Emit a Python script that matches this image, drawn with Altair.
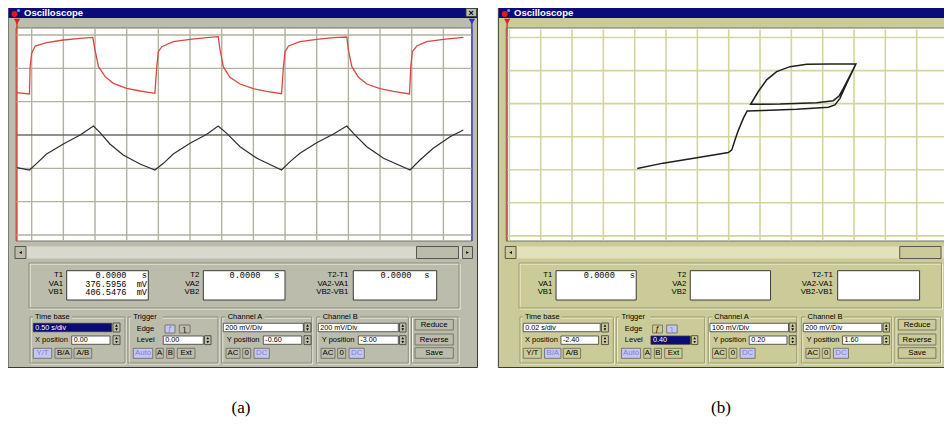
import altair as alt
import pandas as pd

# ---------------- trace values read from the two screens (screen divisions) ----------------
A_RED_X = [-6.49, -6.07, -6.05, -6.00, -5.89, -5.53, -5.00, -4.47, -4.07, -4.00, -3.89, -3.68, -3.42, -3.00, -2.58, -2.11,
           -2.05, -2.00, -1.89, -1.53, -1.00, -0.47, -0.11, -0.05, 0.05, 0.26, 0.58, 1.00, 1.42, 1.89,
           1.95, 2.00, 2.11, 2.47, 3.00, 3.53, 3.95, 4.00, 4.11, 4.32, 4.58, 5.00, 5.42, 5.93,
           5.97, 6.02, 6.16, 6.47, 7.00, 7.63]
A_RED_Y = [1.27, 1.23, 2.05, 2.45, 2.67, 2.77, 2.85, 2.90, 2.93, 2.55, 2.05, 1.75, 1.55, 1.40, 1.32, 1.25,
           2.05, 2.50, 2.65, 2.80, 2.87, 2.92, 2.95, 2.55, 2.05, 1.73, 1.53, 1.39, 1.31, 1.24,
           2.05, 2.50, 2.67, 2.80, 2.87, 2.92, 2.94, 2.55, 2.05, 1.73, 1.53, 1.39, 1.31, 1.23,
           2.05, 2.50, 2.67, 2.80, 2.87, 2.93]
A_BLK_X = [-6.47, -6.07, -5.84, -5.53, -5.00, -4.47, -4.05, -3.84, -3.53, -3.11, -2.58, -2.11, -1.84, -1.53, -1.00,
           -0.47, -0.11, 0.16, 0.58, 1.11, 1.89, 2.16, 2.47, 3.00, 3.53, 3.95, 4.16, 4.58, 5.11, 5.95, 6.26, 6.68,
           7.21, 7.63]
A_BLK_Y = [-0.98, -1.05, -0.85, -0.57, -0.27, 0.00, 0.27, 0.07, -0.27, -0.60, -0.87, -1.05, -0.85, -0.57, -0.25,
           0.02, 0.27, 0.05, -0.35, -0.70, -1.05, -0.80, -0.55, -0.23, 0.03, 0.27, 0.05, -0.35, -0.70, -1.05, -0.75,
           -0.40, -0.05, 0.15]
B_X = [-2.92, -2.09, -1.02, -0.01, 0.10, 0.20, 0.31, 0.47, 0.59, 1.10, 2.17, 3.18, 3.39, 3.55, 3.77, 4.06,
       3.23, 2.49, 1.96, 1.53, 1.21, 0.94, 0.70, 1.64, 2.81, 3.34, 3.53, 3.66, 4.06]
B_Y = [-0.96, -0.80, -0.64, -0.48, -0.40, -0.10, 0.20, 0.56, 0.78, 0.79, 0.83, 0.89, 0.96, 1.16, 1.62, 2.20,
       2.20, 2.19, 2.12, 1.97, 1.72, 1.36, 0.98, 0.99, 1.03, 1.09, 1.24, 1.46, 2.20]
A_GRID_X = [-6, -5, -4, -3, -2, -1, 0, 1, 2, 3, 4, 5, 6, 7]
A_GRID_Y = [-3, -2, -1, 0, 1, 2, 3]
B_GRID_X = [-7, -6, -5, -4, -3, -2, -1, 0, 1, 2, 3, 4, 5, 6, 7]
B_GRID_Y = [-3, -2, -1, 0, 1, 2, 3]

# ---------------- texts ----------------
TITLE = "Oscilloscope"
READ_LABELS = [["T1", "VA1", "VB1"], ["T2", "VA2", "VB2"], ["T2-T1", "VA2-VA1", "VB2-VB1"]]
GROUP_LABELS = ["Time base", "Trigger", "Channel A", "Channel B"]
ROW_LABELS = ["X position", "Edge", "Level", "Y position", "Y position"]
A_READ = [[("0.0000", "s"), ("376.5956", "mV"), ("406.5476", "mV")], [("0.0000", "s")], [("0.0000", "s")]]
B_READ = [[("0.0000", "s")], [], []]
A_INPUTS = {"tb": "0.50 s/div", "xpos": "0.00", "level": "0.00", "chA": "200 mV/Div", "yA": "-0.60",
            "chB": "200 mV/Div", "yB": "-3.00"}
B_INPUTS = {"tb": "0.02 s/div", "xpos": "-2.40", "level": "0.40", "chA": "100 mV/Div", "yA": "0.20",
            "chB": "200 mV/Div", "yB": "1.60"}
BUTTON_TEXT = {"yt": "Y/T", "ba": "B/A", "ab": "A/B", "edge_r": "ƒ", "edge_f": "ʅ", "auto": "Auto", "tA": "A",
               "tB": "B", "ext": "Ext", "acA": "AC", "zA": "0", "dcA": "DC", "acB": "AC", "zB": "0", "dcB": "DC",
               "reduce": "Reduce", "reverse": "Reverse", "save": "Save"}
CAPTIONS = ["(a)", "(b)"]

# ---------------- styles / layout ----------------
UI, MONO, SERIF = "Liberation Sans", "Liberation Mono", "Liberation Serif"
NAVY, DARK = "#0a0a78", "#3a3a3a"
LAV_FILL, LAV_TEXT = "#c6c6f2", "#8080d4"

W, H = 936, 412
PX0, PX1, PY0, PY1 = 8, 8 + W, 8, 8 + H

SCREEN_A = dict(x0=221.7, dx=31.67, y0=135.0, dy=33.33, box=(16.5, 471.5, 28.5, 240.5))
SCREEN_B = dict(x0=728.7, dx=31.33, y0=136.7, dy=33.05, box=(507.5, 952.0, 29.5, 240.5))

WA = dict(ox=0.0, sx=1.0, bg="#bcbcac", track="#d8d8ce", edark="#8c8c7c", elight="#f2f2ea", close=True,
          read=A_READ, inputs=A_INPUTS, selected="tb", lit={"yt", "edge_r", "auto", "dcA", "dcB"})
WB = dict(ox=490.5, sx=0.9826, bg="#cbcb99", track="#e2e2ba", edark="#9a9a6a", elight="#f4f4dc", close=False,
          read=B_READ, inputs=B_INPUTS, selected="level", lit={"ba", "edge_f", "auto", "dcA", "dcB"})

READ_BOXES = [(66.7, 148.3), (203.3, 285.0), (353.3, 436.7)]
READ_ROWS = [275.3, 283.5, 291.7]
READ_LABEL_X = [63.0, 199.3, 348.3]
VALUE_RIGHT = [126.5, 260.5, 411.5]
UNIT_RIGHT = [147.0, 279.5, 429.5]
GROUPS = [(30, 125), (128, 218), (221.7, 311.7), (316.7, 408.3), (411.5, 458)]
GROUP_LABEL_X = [35, 133.3, 227.7, 322.7]
ROW_POS = [(35, 340), (136.7, 329), (136.7, 340), (226.7, 340), (321.7, 340)]
INPUTS = [("tb", 33.3, 111.7, 323.3, 331.7, 113.0, 120.0), ("xpos", 71.7, 110.0, 336.0, 344.3, 113.0, 120.0),
          ("level", 163.3, 203.3, 336.0, 344.3, 204.5, 211.0), ("chA", 223.3, 303.3, 323.3, 331.7, 304.0, 311.0),
          ("yA", 263.3, 301.7, 336.0, 344.3, 304.0, 311.0), ("chB", 318.3, 398.3, 323.3, 331.7, 399.5, 406.0),
          ("yB", 358.3, 398.3, 336.0, 344.3, 399.5, 406.0)]
BTN_ROW = (348.3, 358.3)
BUTTONS = [("yt", 33.3, 51.7) + BTN_ROW, ("ba", 55.0, 71.7) + BTN_ROW, ("ab", 74.0, 91.7) + BTN_ROW,
           ("edge_r", 165.0, 175.0, 325.0, 333.0), ("edge_f", 179.3, 190.0, 325.0, 333.0),
           ("auto", 133.3, 152.7) + BTN_ROW, ("tA", 156.0, 163.3) + BTN_ROW, ("tB", 166.7, 174.0) + BTN_ROW,
           ("ext", 177.3, 195.0) + BTN_ROW, ("acA", 226.0, 240.0) + BTN_ROW, ("zA", 242.7, 250.7) + BTN_ROW,
           ("dcA", 254.0, 269.3) + BTN_ROW, ("acB", 321.0, 335.0) + BTN_ROW, ("zB", 337.7, 345.7) + BTN_ROW,
           ("dcB", 349.0, 364.3) + BTN_ROW, ("reduce", 415.0, 453.3, 319.3, 330.0),
           ("reverse", 415.0, 453.3, 334.0, 345.0), ("save", 415.0, 453.3, 347.7, 358.3)]

rects, texts, pts = [], [], []


def R(w, x1, x2, y1, y2, fill, stroke="transparent", sw=0.0):
    rects.append(dict(x=w["ox"] + w["sx"] * x1, x2=w["ox"] + w["sx"] * x2, y=y1, y2=y2,
                      fill=fill, stroke=stroke, sw=sw))


def T(w, x, y, s, color="#000000", size=7.5, font=UI, weight="normal", align="left"):
    texts.append(dict(x=w["ox"] + w["sx"] * x, y=y, text=s, color=color, size=size,
                      font=font, weight=weight, align=align))


def P(w, x, y, shape, fill, size):
    pts.append(dict(x=w["ox"] + w["sx"] * x, y=y, shape=shape, fill=fill, size=size))


def etched(w, x1, x2, y1, y2):
    R(w, x1 + 1, x2 + 1, y1 + 1, y2 + 1, "transparent", w["elight"], 1)
    R(w, x1, x2, y1, y2, "transparent", w["edark"], 1)


for w in (WA, WB):
    bg = w["bg"]
    R(w, 8, 477.5, 3, 367.5, bg, DARK, 1)
    R(w, 8.5, 477, 3, 18, NAVY)
    if w["close"]:
        R(w, 466, 476.5, 8.5, 16.5, bg, DARK, 0.8)
        T(w, 471.2, 12.8, "×", "#000000", 9, UI, "bold", "center")
    T(w, 24, 13.4, TITLE, "#ffffff", 9.5, UI, "bold")
    P(w, 14.5, 14.0, "circle", "#e01818", 36)
    P(w, 18.5, 10.5, "circle", "#4aa8e8", 10)
    # screen frame and cursors
    R(w, 16, 472, 28, 241, "#ffffff", "#707068", 1)
    R(w, 16.2, 17.6, 22, 241, "#d83a2a")
    R(w, 471.2, 472.6, 22, 241, "#3c3cc8")
    P(w, 17, 21.5, "triangle-down", "#e02020", 40)
    P(w, 471.9, 21.5, "triangle-down", "#3030d0", 40)
    # scrollbar
    R(w, 26, 462.5, 246.5, 258.5, w["track"])
    R(w, 15, 26, 246.5, 258.5, bg, DARK, 0.8)
    R(w, 462.5, 472.5, 246.5, 258.5, bg, DARK, 0.8)
    R(w, 416.5, 458.5, 246.5, 258.5, bg, DARK, 0.8)
    P(w, 20.5, 252.5, "triangle-left", "#000000", 8)
    P(w, 467.5, 252.5, "triangle-right", "#000000", 8)
    # readouts
    etched(w, 29, 459, 263, 308)
    for k, (bx1, bx2) in enumerate(READ_BOXES):
        R(w, bx1, bx2, 270.7, 300.0, "#ffffff", DARK, 1)
        for r, lab in enumerate(READ_LABELS[k]):
            T(w, READ_LABEL_X[k], READ_ROWS[r], lab, size=7.8, align="right")
        for r, (val, unit) in enumerate(w["read"][k]):
            T(w, VALUE_RIGHT[k], READ_ROWS[r], val, size=8.6, font=MONO, align="right")
            T(w, UNIT_RIGHT[k], READ_ROWS[r], unit, size=8.6, font=MONO, align="right")
    # control groups
    for gx1, gx2 in GROUPS:
        etched(w, gx1, gx2, 317, 363)
    for k, lab in enumerate(GROUP_LABELS):
        gx = GROUP_LABEL_X[k]
        R(w, gx - 2, gx + len(lab) * 3.9 + 2, 312.5, 321.5, bg)
        T(w, gx, 317, lab)
    for k, lab in enumerate(ROW_LABELS):
        T(w, ROW_POS[k][0], ROW_POS[k][1], lab)
    for key, x1, x2, y1, y2, sx1, sx2 in INPUTS:
        sel = key == w["selected"]
        R(w, x1, x2, y1, y2, NAVY if sel else "#ffffff", DARK, 0.8)
        T(w, x1 + 2, (y1 + y2) / 2, w["inputs"][key], "#ffffff" if sel else "#000000", 7.2)
        R(w, sx1, sx2, y1 - 0.3, y2 + 0.3, bg, DARK, 0.8)
        P(w, (sx1 + sx2) / 2, (y1 + y2) / 2 - 2.0, "triangle-up", "#000000", 7)
        P(w, (sx1 + sx2) / 2, (y1 + y2) / 2 + 2.0, "triangle-down", "#000000", 7)
    for key, x1, x2, y1, y2 in BUTTONS:
        lit = key in w["lit"]
        R(w, x1, x2, y1, y2, LAV_FILL if lit else bg, "#66665c", 0.8)
        T(w, (x1 + x2) / 2, (y1 + y2) / 2, BUTTON_TEXT[key], LAV_TEXT if lit else "#000000", 7.8,
          align="center")

PAGE = dict(ox=0.0, sx=1.0)
T(PAGE, 241, 408, CAPTIONS[0], size=17, font=SERIF, align="center")
T(PAGE, 721, 408, CAPTIONS[1], size=17, font=SERIF, align="center")

# ---------------- chart construction ----------------
px_xs = alt.Scale(domain=[PX0, PX1], nice=False, zero=False)
px_ys = alt.Scale(domain=[PY0, PY1], reverse=True, nice=False, zero=False)

rect_layer = alt.Chart(pd.DataFrame(rects)).mark_rect(clip=True).encode(
    x=alt.X("x:Q", scale=px_xs, axis=None), x2="x2:Q",
    y=alt.Y("y:Q", scale=px_ys, axis=None), y2="y2:Q",
    fill=alt.Fill("fill:N", scale=None), stroke=alt.Stroke("stroke:N", scale=None),
    strokeWidth=alt.StrokeWidth("sw:Q", scale=None))

pt_layer = alt.Chart(pd.DataFrame(pts)).mark_point(filled=True, opacity=1, clip=True).encode(
    x=alt.X("x:Q", scale=px_xs, axis=None), y=alt.Y("y:Q", scale=px_ys, axis=None),
    shape=alt.Shape("shape:N", scale=None), color=alt.Color("fill:N", scale=None),
    size=alt.Size("size:Q", scale=None))

tdf = pd.DataFrame(texts)
text_layers = []
for (font, weight, align), sub in tdf.groupby(["font", "weight", "align"]):
    text_layers.append(
        alt.Chart(sub.reset_index(drop=True)).mark_text(font=font, fontWeight=weight, align=align,
                                                        baseline="middle", clip=True).encode(
            x=alt.X("x:Q", scale=px_xs, axis=None), y=alt.Y("y:Q", scale=px_ys, axis=None),
            text="text:N", color=alt.Color("color:N", scale=None), size=alt.Size("size:Q", scale=None)))

chrome = alt.layer(rect_layer, pt_layer, *text_layers)


def screen_layer(s, grid_x, grid_y, grid_col, mid_col, grid_w, traces):
    xs = alt.Scale(domain=[(PX0 - s["x0"]) / s["dx"], (PX1 - s["x0"]) / s["dx"]], nice=False, zero=False)
    ys = alt.Scale(domain=[(s["y0"] - PY1) / s["dy"], (s["y0"] - PY0) / s["dy"]], nice=False, zero=False)
    bx1, bx2, by1, by2 = s["box"]
    xlo, xhi = (bx1 - s["x0"]) / s["dx"], (bx2 - s["x0"]) / s["dx"]
    ylo, yhi = (s["y0"] - by2) / s["dy"], (s["y0"] - by1) / s["dy"]
    vg = pd.DataFrame({"x": grid_x, "y": ylo, "y2": yhi})
    hg = pd.DataFrame({"y": grid_y, "x": xlo, "x2": xhi,
                       "c": [mid_col if g == 0 else grid_col for g in grid_y]})
    layers = [
        alt.Chart(vg).mark_rule(color=grid_col, strokeWidth=grid_w, clip=True).encode(
            x=alt.X("x:Q", scale=xs, axis=None), y=alt.Y("y:Q", scale=ys, axis=None), y2="y2:Q"),
        alt.Chart(hg).mark_rule(strokeWidth=grid_w, clip=True).encode(
            x=alt.X("x:Q", scale=xs, axis=None), x2="x2:Q", y=alt.Y("y:Q", scale=ys, axis=None),
            color=alt.Color("c:N", scale=None)),
    ]
    for tx, ty, col, sw in traces:
        df = pd.DataFrame({"x": tx, "y": ty, "i": list(range(len(tx)))})
        layers.append(alt.Chart(df).mark_line(color=col, strokeWidth=sw, clip=True).encode(
            x=alt.X("x:Q", scale=xs, axis=None), y=alt.Y("y:Q", scale=ys, axis=None), order="i:Q"))
    return alt.layer(*layers)


wave_a = screen_layer(SCREEN_A, A_GRID_X, A_GRID_Y, "#b2b29e", "#6e6e60", 1.4,
                      [(A_RED_X, A_RED_Y, "#d9483f", 1.3), (A_BLK_X, A_BLK_Y, "#2e2e2e", 1.2)])
wave_b = screen_layer(SCREEN_B, B_GRID_X, B_GRID_Y, "#d4d49e", "#d4d49e", 1.6,
                      [(B_X, B_Y, "#1e1e1e", 1.5)])

chart = alt.layer(chrome, wave_a, wave_b).resolve_scale(
    x="independent", y="independent"
).properties(
    width=W, height=H, autosize=alt.AutoSizeParams(type="none"), padding=0, background="#ffffff"
).configure_view(stroke=None)

chart.save("out.html", embed_options={"renderer": "svg", "actions": False})
